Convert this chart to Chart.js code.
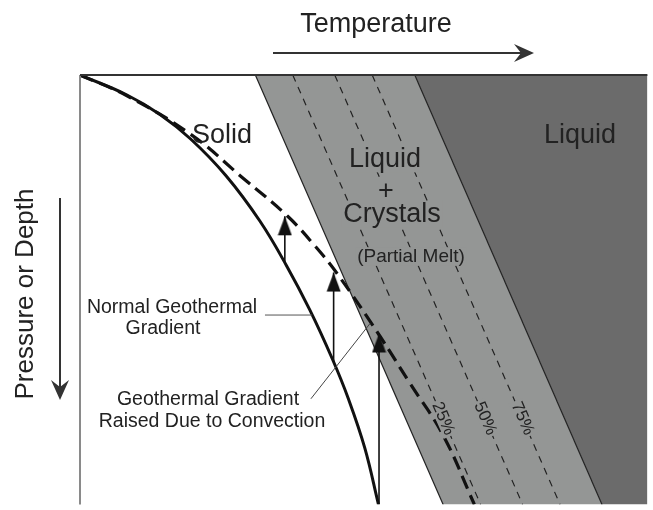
<!DOCTYPE html>
<html>
<head>
<meta charset="utf-8">
<script src="https://cdn.jsdelivr.net/npm/chart.js"></script>
<style>
  html, body { margin: 0; padding: 0; background: #fff; }
  #chart { display: block; }
</style>
</head>
<body>
<canvas id="chart" width="653" height="510"></canvas>
<script>
// x = temperature (0-100, arbitrary), y = pressure/depth (0-100, down)
const depthEnds = [0, 100];
const solidus = [30.9, 64.0];
const liquidus = [59.0, 92.0];
const melt25 = [37.5, 70.6];
const melt50 = [44.9, 78.0];
const melt75 = [51.5, 84.6];
const meltLabels = ['25%', '50%', '75%'];

const normalT = [0, 8.2, 14.1, 19.5, 25.7, 31.7, 36.4, 40.5, 44.5, 47.3, 50.2, 52.6];
const normalD = [0, 4.6, 9.2, 14.9, 23.4, 34.0, 44.4, 54.7, 66.2, 75.4, 86.9, 100];
const raisedT = [0, 8.2, 19.7, 28.8, 36.6, 41.4, 45.4, 52.9, 58.1, 64.0, 69.5];
const raisedD = [0, 4.8, 14.0, 24.1, 32.9, 39.8, 46.4, 60.9, 71.7, 83.9, 100];

// convection arrows: from normal gradient up to raised gradient
const arrowT = [36.1, 44.7, 52.7];
const arrowFrom = [43.8, 66.7, 100];
const arrowTo = [32.9, 46.0, 60.2];

const normalLeaderT = [32.6, 40.9];
const normalLeaderD = [55.9, 55.9];
const raisedLeaderT = [40.7, 51.1];
const raisedLeaderD = [75.4, 57.9];

const BAND = '#949695';
const LIQ = '#6b6b6b';
const INK = '#222';
const FONT = "'Liberation Sans', Arial, sans-serif";

const pts = (xs, ys) => xs.map((x, i) => ({ x: x, y: ys[i] }));

// arrow head as a point image, apex at the centre of the canvas
const head = document.createElement('canvas');
head.width = 15; head.height = 40;
(function () {
  const c = head.getContext('2d');
  c.fillStyle = '#111';
  c.beginPath();
  c.moveTo(7.5, 20);
  c.lineTo(14.5, 39);
  c.lineTo(0.5, 39);
  c.closePath();
  c.fill();
})();

const datasets = [];

// regions
datasets.push({
  data: [{ x: liquidus[0], y: 0 }, { x: 100, y: 0 }, { x: 100, y: 100 }, { x: liquidus[1], y: 100 }],
  showLine: true, fill: 'shape', backgroundColor: LIQ, borderWidth: 0, pointRadius: 0, order: 20
});
datasets.push({
  data: [{ x: solidus[0], y: 0 }, { x: liquidus[0], y: 0 }, { x: liquidus[1], y: 100 }, { x: solidus[1], y: 100 }],
  showLine: true, fill: 'shape', backgroundColor: BAND, borderWidth: 0, pointRadius: 0, order: 19
});
// band edges
[solidus, liquidus].forEach(l => datasets.push({
  data: pts(l, depthEnds), showLine: true, borderColor: INK, borderWidth: 1.2, pointRadius: 0, order: 15
}));
// melt percentage lines
[melt25, melt50, melt75].forEach(l => datasets.push({
  data: pts(l, depthEnds), showLine: true, borderColor: INK, borderWidth: 1.2,
  borderDash: [7, 6], pointRadius: 0, order: 14
}));
// geothermal gradients
datasets.push({
  data: pts(normalT, normalD), showLine: true, borderColor: '#111', borderWidth: 3,
  tension: 0.4, pointRadius: 0, order: 5
});
datasets.push({
  data: pts(raisedT, raisedD), showLine: true, borderColor: '#111', borderWidth: 3.2,
  borderDash: [14, 7], tension: 0.4, pointRadius: 0, order: 6
});
// arrows
arrowT.forEach((t, i) => datasets.push({
  data: [{ x: t, y: arrowFrom[i] }, { x: t, y: arrowTo[i] }], showLine: true,
  borderColor: '#111', borderWidth: 1.6, pointRadius: [0, 3], pointStyle: head, order: 2
}));
// leader lines
datasets.push({
  data: pts(normalLeaderT, normalLeaderD), showLine: true, borderColor: '#555', borderWidth: 1, pointRadius: 0, order: 3
});
datasets.push({
  data: pts(raisedLeaderT, raisedLeaderD), showLine: true, borderColor: '#444', borderWidth: 1, pointRadius: 0, order: 3
});

function text(ctx, s, x, y, size, bg) {
  ctx.font = size + 'px ' + FONT;
  ctx.textAlign = 'center';
  ctx.textBaseline = 'alphabetic';
  if (bg) {
    const w = ctx.measureText(s).width;
    ctx.fillStyle = bg;
    ctx.fillRect(x - w / 2 - 2, y - size * 0.78, w + 4, size * 0.98);
  }
  ctx.fillStyle = INK;
  ctx.fillText(s, x, y);
}

function arrowHead(ctx, x, y, ang) {
  ctx.save();
  ctx.translate(x, y);
  ctx.rotate(ang);
  ctx.beginPath();
  ctx.moveTo(0, 0);
  ctx.lineTo(-20, -9);
  ctx.lineTo(-13, 0);
  ctx.lineTo(-20, 9);
  ctx.closePath();
  ctx.fill();
  ctx.restore();
}

const decor = {
  id: 'decor',
  afterDatasetsDraw(chart) {
    const ctx = chart.ctx, a = chart.chartArea;
    const xs = chart.scales.x, ys = chart.scales.y;
    ctx.save();
    // frame
    ctx.strokeStyle = '#8a8a8a'; ctx.lineWidth = 2;
    ctx.beginPath(); ctx.moveTo(a.left, a.top); ctx.lineTo(a.left, a.bottom); ctx.stroke();
    ctx.strokeStyle = '#333';
    ctx.beginPath(); ctx.moveTo(a.left, a.top); ctx.lineTo(a.right, a.top); ctx.stroke();

    // axis titles with arrows
    text(ctx, 'Temperature', 376, 32, 27);
    ctx.strokeStyle = '#333'; ctx.fillStyle = '#333'; ctx.lineWidth = 2;
    ctx.beginPath(); ctx.moveTo(273, 53); ctx.lineTo(522, 53); ctx.stroke();
    arrowHead(ctx, 534, 53, 0);

    ctx.save();
    ctx.translate(33, 294);
    ctx.rotate(-Math.PI / 2);
    text(ctx, 'Pressure or Depth', 0, 0, 26);
    ctx.restore();
    ctx.strokeStyle = '#333'; ctx.fillStyle = '#333';
    ctx.beginPath(); ctx.moveTo(60, 198); ctx.lineTo(60, 388); ctx.stroke();
    arrowHead(ctx, 60, 400, Math.PI / 2);

    // region labels
    text(ctx, 'Solid', 222, 143, 27);
    text(ctx, 'Liquid', 580, 143, 27);
    text(ctx, 'Liquid', 385, 167, 27, BAND);
    text(ctx, '+', 386, 199, 27, BAND);
    text(ctx, 'Crystals', 392, 222, 27, BAND);
    text(ctx, '(Partial Melt)', 411, 262, 19, BAND);

    text(ctx, 'Normal Geothermal', 172, 313, 19.5);
    text(ctx, 'Gradient', 163, 334, 19.5);
    text(ctx, 'Geothermal Gradient', 208, 405, 19.5);
    text(ctx, 'Raised Due to Convection', 212, 427, 19.5);

    // melt percentage labels along the dashed lines
    const ang = Math.atan2(ys.getPixelForValue(100) - ys.getPixelForValue(0),
      xs.getPixelForValue(melt25[1]) - xs.getPixelForValue(melt25[0]));
    const dLab = 80;
    [melt25, melt50, melt75].forEach((l, i) => {
      const t = l[0] + (l[1] - l[0]) * dLab / 100;
      ctx.save();
      ctx.translate(xs.getPixelForValue(t), ys.getPixelForValue(dLab));
      ctx.rotate(ang);
      ctx.font = '17px ' + FONT;
      const w = ctx.measureText(meltLabels[i]).width;
      ctx.fillStyle = BAND;
      ctx.fillRect(-w / 2 - 2, -8, w + 4, 15);
      ctx.fillStyle = INK;
      ctx.textAlign = 'center'; ctx.textBaseline = 'middle';
      ctx.fillText(meltLabels[i], 0, 0);
      ctx.restore();
    });
    ctx.restore();
  }
};

new Chart(document.getElementById('chart'), {
  type: 'scatter',
  data: { datasets: datasets },
  options: {
    responsive: false,
    animation: false,
    events: [],
    devicePixelRatio: 1,
    layout: { padding: { left: 80, top: 75, right: 0, bottom: 0 } },
    scales: {
      x: { type: 'linear', min: 0, max: 100, display: false },
      y: { type: 'linear', min: 0, max: 100, reverse: true, display: false }
    },
    plugins: { legend: { display: false }, tooltip: { enabled: false } }
  },
  plugins: [decor]
});
</script>
</body>
</html>
